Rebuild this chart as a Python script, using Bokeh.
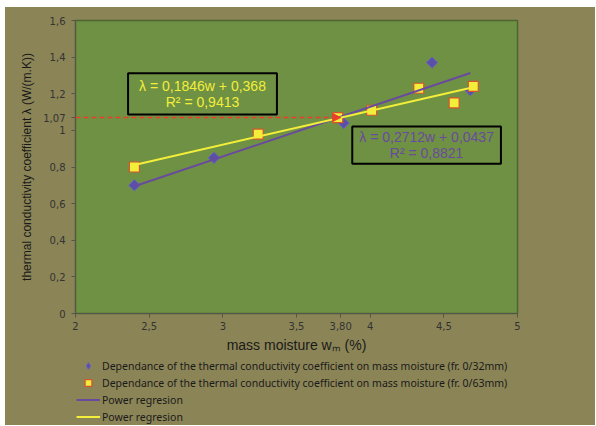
from bokeh.plotting import figure
from bokeh.layouts import column
from bokeh.models import (Range1d, FixedTicker, Label, Legend, LegendItem, Arrow, NormalHead)
from bokeh.embed import file_html
from bokeh.resources import INLINE

# ---------------- data ----------------
w_32 = [2.40, 2.94, 3.82, 4.42, 4.68]
lam_32 = [0.70, 0.85, 1.04, 1.37, 1.22]

w_63 = [2.40, 3.24, 3.78, 4.01, 4.33, 4.57, 4.70]
lam_63 = [0.80, 0.98, 1.07, 1.11, 1.23, 1.15, 1.24]

reg_w_32 = [2.40, 4.68]
reg_lam_32 = [0.695, 1.313]
reg_w_63 = [2.40, 4.70]
reg_lam_63 = [0.811, 1.236]

ref_w = 3.80
ref_lam = 1.07
ref_w_label = "3,80"
ref_lam_label = "1,07"

x_ticks = [2, 2.5, 3, 3.5, 4, 4.5, 5]
x_tick_labels = ["2", "2,5", "3", "3,5", "4", "4,5", "5"]
y_ticks = [0, 0.2, 0.4, 0.6, 0.8, 1, 1.2, 1.4, 1.6]
y_tick_labels = ["0", "0,2", "0,4", "0,6", "0,8", "1", "1,2", "1,4", "1,6"]

eq_63 = "λ = 0,1846w + 0,368\nR² = 0,9413"
eq_32 = "λ = 0,2712w + 0,0437\nR² = 0,8821"

legend_labels = [
    "Dependance of the thermal conductivity coefficient on mass moisture (fr. 0/32mm)",
    "Dependance of the thermal conductivity coefficient on mass moisture (fr. 0/63mm)",
    "Power regresion",
    "Power regresion",
]
x_label = "mass moisture wₘ (%)"
y_label = "thermal conductivity coefficient λ (W/(m.K))"

# ---------------- style ----------------
OLIVE = "#8b8456"
GREEN = "#6f9144"
PURPLE = "#6a4a9e"
DIAMOND = "#5a50a8"
YELLOW = "#f2ee3a"
SQ_EDGE = "#d4552e"
RED = "#e8402a"
TXT = "#333333"

SQUARE_STYLE = dict(marker="square", size=10, fill_color=YELLOW, line_color=SQ_EDGE, line_width=1.2)

p = figure(width=590, height=350, output_backend="svg", toolbar_location=None,
           x_range=Range1d(2, 5), y_range=Range1d(0, 1.6),
           min_border_left=70, min_border_right=78, min_border_top=13, min_border_bottom=44)

p.background_fill_color = GREEN
p.border_fill_color = OLIVE
p.outline_line_color = "#4b6630"
p.outline_line_width = 1.5
p.xgrid.visible = False
p.ygrid.visible = False

for ax in (p.xaxis[0], p.yaxis[0]):
    ax.axis_line_color = "#55554a"
    ax.major_tick_line_color = "#55554a"
    ax.major_tick_out = 4
    ax.major_tick_in = 0
    ax.minor_tick_line_color = None
    ax.major_label_text_font = "DejaVu Sans"
    ax.major_label_text_font_size = "10px"
    ax.major_label_text_color = TXT
    ax.axis_label_text_font = "Liberation Sans"
    ax.axis_label_text_font_style = "normal"
    ax.axis_label_text_color = "#1a1a1a"

xt = x_ticks + [ref_w]
xl = x_tick_labels + [ref_w_label]
yt = y_ticks + [ref_lam]
yl = y_tick_labels + [ref_lam_label]
p.xaxis.ticker = FixedTicker(ticks=xt)
p.xaxis.major_label_overrides = dict(zip(xt, xl))
p.yaxis.ticker = FixedTicker(ticks=yt)
p.yaxis.major_label_overrides = dict(zip(yt, yl))
p.xaxis.axis_label = x_label
p.yaxis.axis_label = y_label
p.xaxis.axis_label_text_font_size = "14px"
p.yaxis.axis_label_text_font_size = "12px"
p.xaxis.major_label_standoff = 4
p.yaxis.major_label_standoff = 6
p.xaxis.axis_label_standoff = 4
p.yaxis.axis_label_standoff = 6

# reference dashed arrow
p.add_layout(Arrow(end=NormalHead(size=8, fill_color=RED, line_color=RED, line_width=1),
                   x_start=2, y_start=ref_lam, x_end=ref_w, y_end=ref_lam,
                   line_color=RED, line_width=1.5, line_dash="5 3"))

p.scatter(w_32, lam_32, marker="square", angle=0.785, size=8, fill_color=DIAMOND,
          line_color="#6a62c0", line_width=1)
p.scatter(w_63, lam_63, **SQUARE_STYLE)
p.line(reg_w_32, reg_lam_32, line_color=PURPLE, line_width=2)
p.line(reg_w_63, reg_lam_63, line_color=YELLOW, line_width=2)

# equation boxes
p.add_layout(Label(x=2.862, y=1.199, text=eq_63, text_align="center", text_baseline="middle",
                   text_color=YELLOW, text_font="Liberation Sans", text_font_size="14px",
                   text_line_height=0.95, border_line_color="black", border_line_width=2,
                   padding=dict(left=11, right=11, top=5, bottom=5)))
p.add_layout(Label(x=4.383, y=0.920, text=eq_32, text_align="center", text_baseline="middle",
                   text_color=PURPLE, text_font="Liberation Sans", text_font_size="14px",
                   text_line_height=0.95, border_line_color="black", border_line_width=2,
                   padding=dict(left=7, right=7, top=3, bottom=3)))

# ---------------- legend strip (same background) ----------------
# the strip's ranges lie outside the data, so only the legend glyphs show
pl = figure(width=590, height=68, output_backend="svg", toolbar_location=None,
            x_range=Range1d(0, 1), y_range=Range1d(0, 0.5),
            x_axis_type=None, y_axis_type=None,
            min_border_left=0, min_border_right=0, min_border_top=0, min_border_bottom=0)
pl.background_fill_color = OLIVE
pl.border_fill_color = OLIVE
pl.outline_line_color = OLIVE
pl.outline_line_width = 3
pl.xgrid.visible = False
pl.ygrid.visible = False

g32 = pl.scatter(w_32, lam_32, marker="diamond", size=10, fill_color=DIAMOND,
                 line_color="#6a62c0", line_width=1)
g63 = pl.scatter(w_63, lam_63, **SQUARE_STYLE)
gl32 = pl.line(reg_w_32, reg_lam_32, line_color=PURPLE, line_width=2)
gl63 = pl.line(reg_w_63, reg_lam_63, line_color=YELLOW, line_width=2)

legend = Legend(items=[LegendItem(label=legend_labels[0], renderers=[g32]),
                       LegendItem(label=legend_labels[1], renderers=[g63]),
                       LegendItem(label=legend_labels[2], renderers=[gl32]),
                       LegendItem(label=legend_labels[3], renderers=[gl63])],
                location=(1, 0), orientation="vertical",
                background_fill_alpha=0, border_line_color=None,
                padding=0, margin=0, spacing=0,
                glyph_width=24, glyph_height=17, label_height=17, label_standoff=2,
                label_text_font="Noto Sans", label_text_font_size="10.5px",
                label_text_color="#1a1a1a")
pl.add_layout(legend)

layout = column(p, pl, spacing=0, styles={"background-color": OLIVE})
layout.margin = (7, 0, 0, 5)
open("out.html", "w").write(file_html(layout, INLINE))
